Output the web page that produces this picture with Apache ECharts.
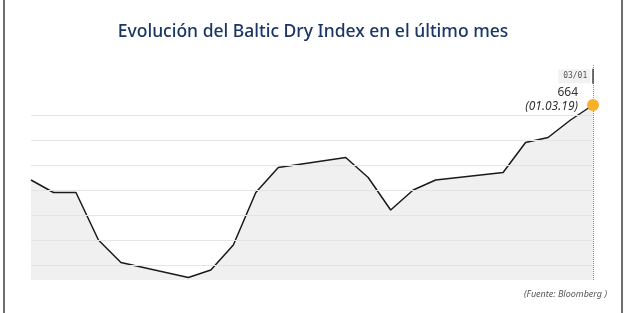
<!DOCTYPE html>
<html>
<head>
<meta charset="utf-8">
<script src="https://cdn.jsdelivr.net/npm/echarts@6/dist/echarts.min.js"></script>
<style>
html,body{margin:0;padding:0;background:#fff;}
#c{width:626px;height:313px;}
</style>
</head>
<body>
<div id="c"></div>
<script>
const dates = ['2019-02-04','2019-02-05','2019-02-06','2019-02-07','2019-02-08',
  '2019-02-11','2019-02-12','2019-02-13','2019-02-14','2019-02-15',
  '2019-02-18','2019-02-19','2019-02-20','2019-02-21','2019-02-22',
  '2019-02-25','2019-02-26','2019-02-27','2019-02-28','2019-03-01'];
const values = [634,629,629,610,601,595,598,608,629,639,643,635,622,630,634,637,649,651,658,664];
const gridValues = [600,610,620,630,640,650,660];
const titleText = 'Evolución del Baltic Dry Index en el último mes';
const sourceText = '(Fuente: Bloomberg )';
const lastDateShort = '03/01';
const lastDateLong = '(01.03.19)';

const lastIdx = values.length - 1;
const chart = echarts.init(document.getElementById('c'), null, {renderer:'canvas'});
chart.setOption({
  animation:false,
  backgroundColor:'#fff',
  title:{
    text:titleText, left:'center', top:18,
    textStyle:{fontFamily:'Noto Sans', fontSize:17.5, fontWeight:500, color:'#1a3566'}
  },
  graphic:[
    {type:'rect', shape:{x:3,y:0,width:2,height:313}, style:{fill:'#6e6e6e'}},
    {type:'rect', shape:{x:621,y:0,width:2,height:313}, style:{fill:'#6e6e6e'}},
    {type:'text', right:19, top:290, style:{text:sourceText, fill:'#555', fontSize:9, fontStyle:'italic', fontFamily:'Noto Sans'}}
  ],
  grid:{left:31, right:33, top:65, bottom:33},
  xAxis:{type:'time', min:dates[0], max:dates[lastIdx], show:false},
  yAxis:{type:'value', min:594, max:680, show:false, splitLine:{show:false}},
  series:[
    {
      type:'line', data:dates.map((d,i)=>[d,values[i]]),
      symbol:'none', lineStyle:{color:'#1a1a1a', width:1.5},
      areaStyle:{color:'#f0f0f0', opacity:1},
      z:2,
      markLine:{
        silent:true, symbol:['none','none'], animation:false,
        label:{show:false},
        data:[
          ...gridValues.map(v=>({yAxis:v, lineStyle:{color:'#e4e4e4', type:'solid', width:1}})),
          {xAxis:dates[lastIdx], lineStyle:{color:'#8a8a8a', type:'dotted', width:1}}
        ]
      },
      markPoint:{
        silent:true,
        data:[{
          coord:[dates[lastIdx], 675.5], symbol:'rect', symbolSize:[1.5,15],
          itemStyle:{color:'#444'},
          label:{show:true, position:'left', distance:2, formatter:lastDateShort,
            color:'#555', fontSize:8, fontFamily:'DejaVu Sans Mono',
            backgroundColor:'#f2f2f2', padding:[3,3,3,5]}
        }]
      }
    },
    {
      type:'scatter', z:5,
      data:[[dates[lastIdx], values[lastIdx]]],
      symbol:'circle', symbolSize:12,
      itemStyle:{color:'#f8b02b', opacity:1},
      label:{
        show:true, position:'left', distance:9, offset:[0,-5], align:'right',
        formatter:()=> values[lastIdx] + '\n{i|' + lastDateLong + '}',
        color:'#333', fontSize:12, fontFamily:'Noto Sans', lineHeight:14,
        rich:{i:{fontStyle:'italic', fontSize:12, color:'#333', lineHeight:14, fontFamily:'Noto Sans'}}
      }
    }
  ]
});
</script>
</body>
</html>
